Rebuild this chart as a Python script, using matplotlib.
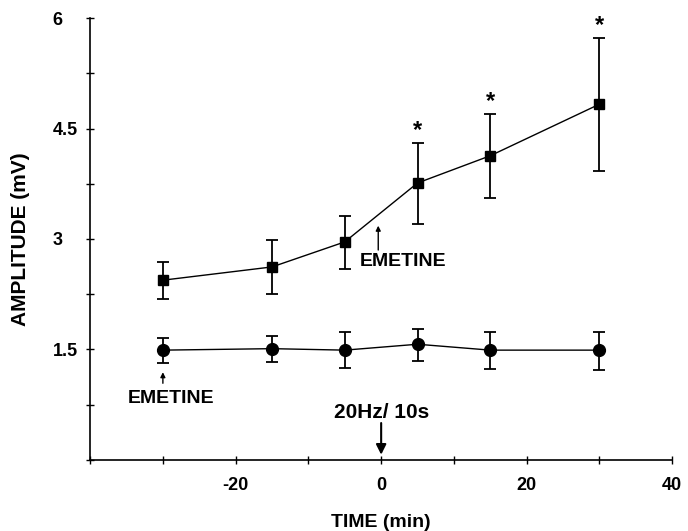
import matplotlib
matplotlib.use("Agg")
import matplotlib.pyplot as plt
import numpy as np

plt.rcParams['font.family'] = ['Liberation Sans', 'DejaVu Sans']
plt.rcParams['font.weight'] = 'bold'

# datos
tiempo = [-30, -15, -5, 5, 15, 30]

# serie con cuadrados (emetina antes del tren)
cuad_media = [2.44, 2.62, 2.96, 3.76, 4.13, 4.83]
cuad_sup = [2.69, 2.99, 3.31, 4.30, 4.70, 5.73]
cuad_inf = [2.19, 2.25, 2.59, 3.20, 3.56, 3.92]

# serie con círculos
circ_media = [1.49, 1.51, 1.49, 1.57, 1.49, 1.49]
circ_sup = [1.66, 1.68, 1.74, 1.78, 1.74, 1.74]
circ_inf = [1.32, 1.33, 1.25, 1.34, 1.24, 1.22]

asteriscos = [5, 15, 30]

x_ticks = [-40, -30, -20, -10, 0, 10, 20, 30, 40]
x_etiquetas = ['', '', '-20', '', '0', '', '20', '', '40']
y_ticks = [0, 0.75, 1.5, 2.25, 3, 3.75, 4.5, 5.25, 6]
y_etiquetas = ['', '', '1.5', '', '3', '', '4.5', '', '6']

fig = plt.figure(figsize=(6.88, 5.31), dpi=100)
ax = fig.add_axes([0.131, 0.134, 0.846, 0.832])

def barras(media, sup, inf, marcador, ms):
    media = np.array(media)
    yerr = [media - np.array(inf), np.array(sup) - media]
    ax.errorbar(tiempo, media, yerr=yerr, fmt='-', marker=marcador, ms=ms,
                color='black', lw=1.0, elinewidth=1.3, capsize=4, capthick=1.3)

barras(cuad_media, cuad_sup, cuad_inf, 's', 7)
barras(circ_media, circ_sup, circ_inf, 'o', 8.5)

# asteriscos de significancia
for t in asteriscos:
    i = tiempo.index(t)
    ax.annotate('*', (t, cuad_sup[i]), xytext=(0, 9), textcoords='offset points',
                ha='center', va='center', fontsize=17, fontweight='bold')

flecha = dict(arrowstyle='-|>', color='black', lw=1.0, mutation_scale=7,
              shrinkA=0, shrinkB=0)
ax.annotate('', xy=(-0.4, 3.18), xytext=(-0.4, 2.85), arrowprops=flecha)
ax.text(-3.0, 2.70, 'EMETINE', ha='left', va='center', fontsize=14)

ax.annotate('', xy=(-30, 1.19), xytext=(-30, 1.04), arrowprops=flecha)
ax.text(-28.9, 0.83, 'EMETINE', ha='center', va='center', fontsize=14)

ax.annotate('', xy=(0, 0.07), xytext=(0, 0.50),
            arrowprops=dict(arrowstyle='-|>', color='black', lw=1.5, mutation_scale=15,
                            shrinkA=0, shrinkB=0))
ax.text(0.1, 0.64, '20Hz/ 10s', ha='center', va='center', fontsize=15)

ax.set_xlim(-40, 40)
ax.set_ylim(0, 6)
ax.set_xticks(x_ticks)
ax.set_xticklabels(x_etiquetas)
ax.set_yticks(y_ticks)
ax.set_yticklabels(y_etiquetas)
ax.tick_params(direction='inout', length=6, width=1.0, labelsize=13)
ax.tick_params(axis='x', pad=9)
ax.tick_params(axis='y', pad=24)
for lab in ax.get_yticklabels():
    lab.set_ha('left')

for s in ['top', 'right']:
    ax.spines[s].set_visible(False)
for s in ['left', 'bottom']:
    ax.spines[s].set_linewidth(1.2)

ax.set_xlabel('TIME (min)', fontsize=14, fontweight='bold')
ax.set_ylabel('AMPLITUDE (mV)', fontsize=15, fontweight='bold')
ax.xaxis.set_label_coords(0.5, -0.1425)
ax.xaxis.label.set_va('center')
ax.yaxis.set_label_coords(-0.120, 0.5)
ax.yaxis.label.set_va('center')

fig.savefig('out.png', dpi=100)
